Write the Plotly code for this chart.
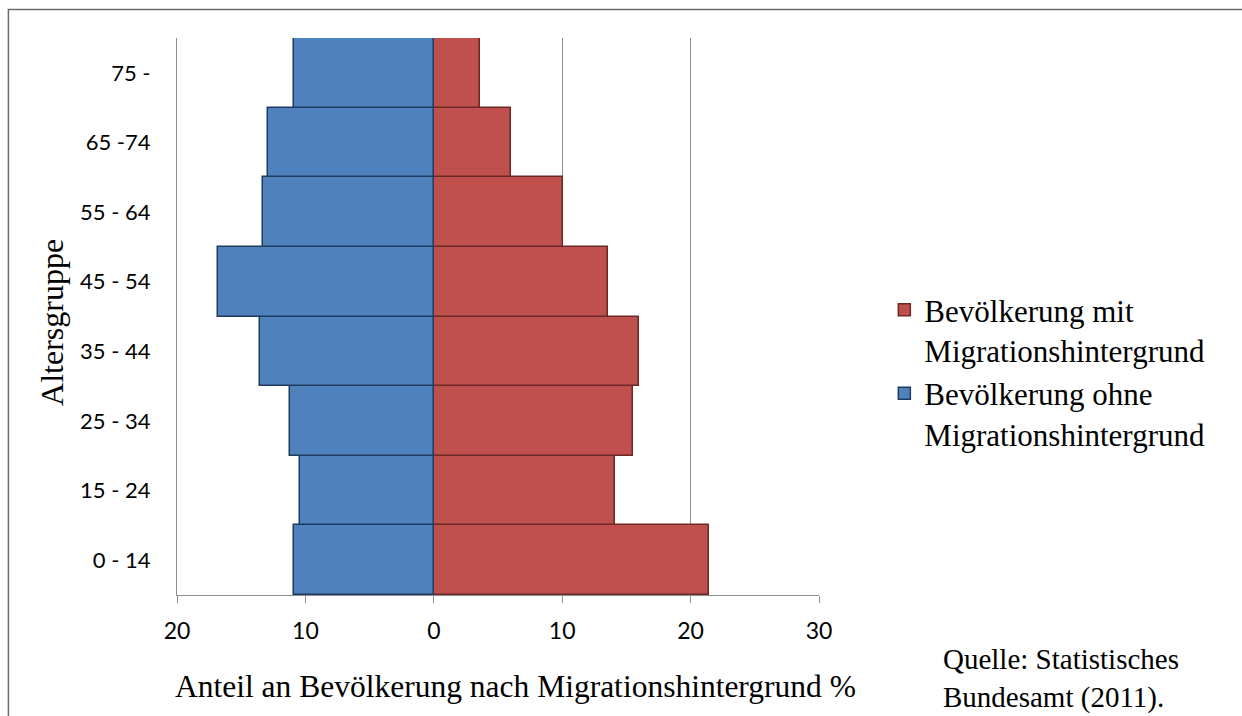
import plotly.graph_objects as go

# Age groups, bottom to top
age_groups = ["0 - 14", "15 - 24", "25 - 34", "35 - 44", "45 - 54", "55 - 64", "65 -74", "75 -"]

# Share of population per age group (%)
ohne_migration = [10.9, 10.4, 11.2, 13.5, 16.8, 13.3, 12.9, 10.9]
mit_migration = [21.4, 14.1, 15.5, 16.0, 13.6, 10.1, 6.0, 3.6]

x_tick_values = [-20, -10, 0, 10, 20, 30]
x_tick_labels = ["20", "10", "0", "10", "20", "30"]

# figure geometry (px)
W, H = 1242, 716
L, R, T, B = 177, 818.7, 38, 595


def px_x(px):
    return (px - L) / (R - L)


def px_y(py):
    return (B - py) / (B - T)


SERIF = "Liberation Serif, Times New Roman, serif"
SANS = "Lato, Open Sans, sans-serif"

fig = go.Figure()

fig.add_trace(go.Bar(
    y=age_groups,
    x=mit_migration,
    orientation="h",
    name="Bevölkerung mit<br>Migrationshintergrund",
    marker=dict(color="#C0504D", line=dict(color="#6a2826", width=1.5)),
))
fig.add_trace(go.Bar(
    y=age_groups,
    x=[-v for v in ohne_migration],
    customdata=ohne_migration,
    hovertemplate="%{y}: %{customdata}<extra></extra>",
    orientation="h",
    name="Bevölkerung ohne<br>Migrationshintergrund",
    marker=dict(color="#4F81BD", line=dict(color="#213b5e", width=1.5)),
))

fig.update_layout(
    width=W,
    height=H,
    margin=dict(l=L, r=W - R, t=T, b=H - B),
    paper_bgcolor="white",
    plot_bgcolor="white",
    barmode="relative",
    bargap=0,
    showlegend=True,
    legend=dict(
        x=px_x(884),
        y=px_y(283),
        xanchor="left",
        yanchor="top",
        traceorder="normal",
        valign="top",
        font=dict(family=SERIF, size=31, color="black"),
        bgcolor="rgba(0,0,0,0)",
        itemwidth=30,
    ),
    xaxis=dict(
        range=[-20, 30],
        tickvals=x_tick_values,
        ticktext=x_tick_labels,
        showgrid=True,
        gridcolor="#8e8e8e",
        gridwidth=1.2,
        zeroline=False,
        showline=True,
        linecolor="#8e8e8e",
        linewidth=1.2,
        ticks="outside",
        ticklen=7,
        tickcolor="#8e8e8e",
        tickwidth=1.2,
        ticklabelstandoff=8,
        tickfont=dict(family=SANS, size=23, color="black"),
        fixedrange=True,
    ),
    yaxis=dict(
        type="category",
        categoryorder="array",
        categoryarray=age_groups,
        showgrid=False,
        zeroline=False,
        showline=True,
        linecolor="#8e8e8e",
        linewidth=1.2,
        ticks="",
        ticklabelstandoff=21,
        tickfont=dict(family=SANS, size=22, color="black"),
        fixedrange=True,
    ),
    annotations=[
        dict(
            text="Anteil an Bevölkerung nach Migrationshintergrund %",
            xref="paper", yref="paper",
            x=px_x(515), y=px_y(686),
            xanchor="center", yanchor="middle",
            showarrow=False,
            font=dict(family=SERIF, size=31.5, color="black"),
        ),
        dict(
            text="Altersgruppe",
            xref="paper", yref="paper",
            x=px_x(52), y=px_y(322),
            xanchor="center", yanchor="middle",
            textangle=-90,
            showarrow=False,
            font=dict(family=SERIF, size=32, color="black"),
        ),
        dict(
            text="Quelle: Statistisches<br>Bundesamt (2011).",
            xref="paper", yref="paper",
            x=px_x(941), y=px_y(678),
            xanchor="left", yanchor="middle",
            align="left",
            showarrow=False,
            font=dict(family=SERIF, size=29, color="black"),
        ),
    ],
    shapes=[
        # outer chart frame
        dict(
            type="rect",
            xref="paper", yref="paper",
            x0=px_x(8.5), x1=px_x(1260),
            y0=px_y(740), y1=px_y(9.5),
            line=dict(color="#6b6b6b", width=1.5),
            fillcolor="rgba(0,0,0,0)",
            layer="above",
        ),
    ],
)

fig.write_html("out.html")
